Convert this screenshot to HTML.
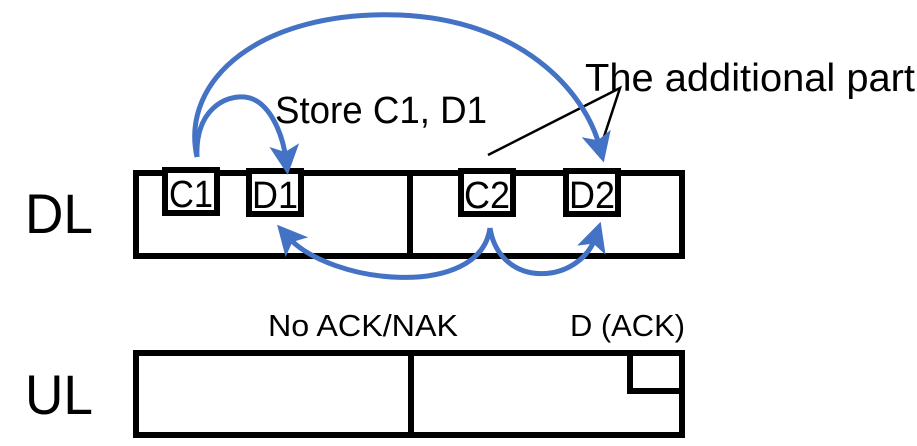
<!DOCTYPE html>
<html><head><style>html,body{margin:0;padding:0;background:#fff;}svg{display:block}</style></head>
<body>
<svg width="917" height="446" viewBox="0 0 917 446" xmlns="http://www.w3.org/2000/svg" font-family="Liberation Sans, sans-serif">
<defs>
<marker id="ah" markerWidth="6" markerHeight="6" refX="3" refY="3" orient="auto" markerUnits="strokeWidth">
<path d="M0,0 L6,3 L0,6 L1.4,3 z" fill="#4472C4"/>
</marker>
</defs>
<rect x="136" y="173" width="546" height="83" fill="none" stroke="#000" stroke-width="6"/>
<line x1="410" y1="172" x2="410" y2="257" stroke="#000" stroke-width="6"/>
<rect x="165" y="170" width="52" height="43" fill="#fff" stroke="#000" stroke-width="6"/>
<rect x="249" y="171" width="52" height="43" fill="#fff" stroke="#000" stroke-width="6"/>
<rect x="461" y="171" width="52" height="43" fill="#fff" stroke="#000" stroke-width="6"/>
<rect x="566" y="171" width="52" height="43" fill="#fff" stroke="#000" stroke-width="6"/>
<g font-size="38" text-anchor="middle">
<text x="191" y="207" textLength="44" lengthAdjust="spacingAndGlyphs">C1</text>
<text x="275" y="208" textLength="46" lengthAdjust="spacingAndGlyphs">D1</text>
<text x="487" y="208" textLength="46" lengthAdjust="spacingAndGlyphs">C2</text>
<text x="592" y="208" textLength="46" lengthAdjust="spacingAndGlyphs">D2</text>
</g>
<rect x="136" y="353" width="546" height="82" fill="none" stroke="#000" stroke-width="6"/>
<line x1="411" y1="352" x2="411" y2="436" stroke="#000" stroke-width="6"/>
<polyline points="630,352 630,391 684,391" fill="none" stroke="#000" stroke-width="6"/>
<text x="25" y="233" font-size="56" textLength="68" lengthAdjust="spacingAndGlyphs">DL</text>
<text x="25" y="414" font-size="56" textLength="68" lengthAdjust="spacingAndGlyphs">UL</text>
<text x="268" y="336" font-size="31" textLength="190" lengthAdjust="spacingAndGlyphs">No ACK/NAK</text>
<text x="570" y="336" font-size="31" textLength="115" lengthAdjust="spacingAndGlyphs">D (ACK)</text>
<text x="275" y="123" font-size="38" textLength="212" lengthAdjust="spacingAndGlyphs">Store C1, D1</text>
<text x="585" y="91" font-size="39" textLength="330" lengthAdjust="spacingAndGlyphs">The additional part</text>
<polyline points="488,155 620,88 598,155" fill="none" stroke="#000" stroke-width="2.5"/>
<g fill="none" stroke="#4472C4" stroke-width="5">
<path d="M197,157 C180,80 260,10 400,15 C520,20 585,90 600,148" marker-end="url(#ah)"/>
<path d="M197,157 C195,110 225,95 245,97 C270,100 283,135 286,160" marker-end="url(#ah)"/>
<path d="M490,228 C480,300 330,285 287,236" marker-end="url(#ah)"/>
<path d="M490,228 C500,290 580,285 596,236" marker-end="url(#ah)"/>
</g>
</svg>
</body></html>
